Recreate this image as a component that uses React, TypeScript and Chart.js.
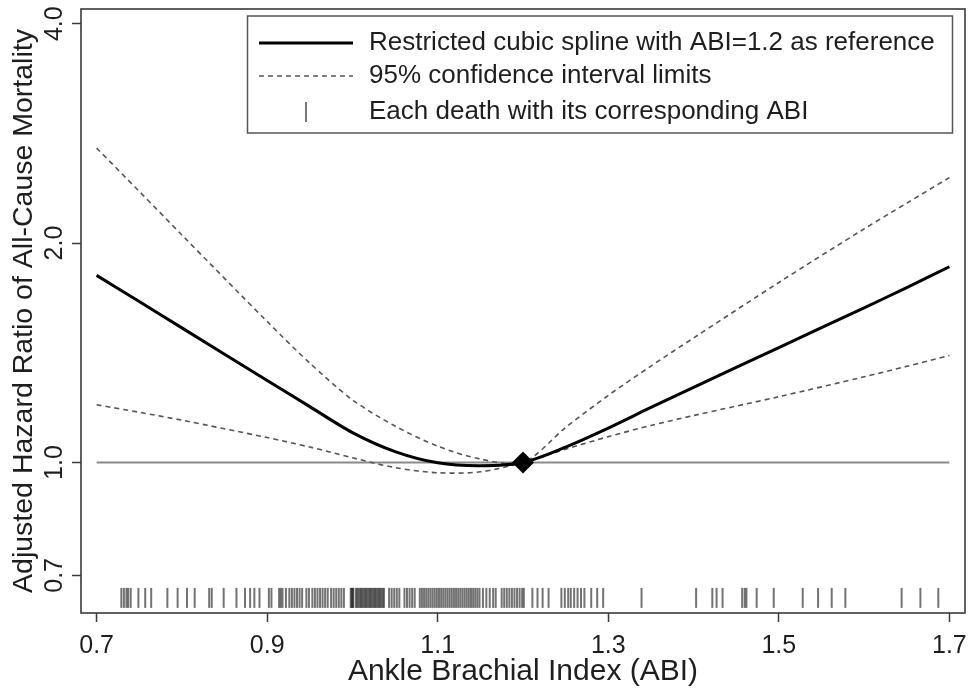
import React, { useEffect, useRef } from 'react';
import { Chart, registerables } from 'chart.js';

Chart.register(...registerables);

// ABI grid at which the curves were read
const ABI = [0.7, 0.75, 0.8, 0.9, 0.95, 1.0, 1.05, 1.1, 1.15, 1.2, 1.25, 1.3, 1.35, 1.4, 1.5, 1.6, 1.65, 1.7];
// Restricted cubic spline hazard ratio (ABI = 1.2 reference)
const HR_SPLINE = [1.806, 1.663, 1.53, 1.296, 1.193, 1.099, 1.035, 0.999, 0.99, 1.0, 1.05, 1.115, 1.19, 1.268, 1.438, 1.63, 1.738, 1.856];
// 95% CI limits
const HR_UPPER = [2.70, 2.355, 2.052, 1.561, 1.369, 1.219, 1.122, 1.053, 1.011, 1.0, 1.117, 1.236, 1.356, 1.482, 1.766, 2.092, 2.269, 2.46];
const HR_LOWER = [1.20, 1.172, 1.143, 1.082, 1.05, 1.015, 0.984, 0.968, 0.971, 1.0, 1.043, 1.085, 1.124, 1.16, 1.231, 1.311, 1.355, 1.402];

// Reference point
const REF_ABI = 1.2;
const REF_HR = 1.0;

// Each death with its ABI (rug)
const DEATH_ABI = [
  0.729, 0.732, 0.735, 0.737, 0.740, 0.749, 0.757, 0.764,
  0.783, 0.795, 0.806, 0.815, 0.832, 0.835, 0.849,
  0.864, 0.874, 0.880, 0.885, 0.891, 0.902, 0.905,
  0.914, 0.916, 0.918, 0.922, 0.926, 0.929, 0.932, 0.935, 0.938, 0.941, 0.946, 0.949,
  0.953, 0.956, 0.959, 0.962, 0.965, 0.968, 0.971,
  0.975, 0.978, 0.981, 0.984, 0.987, 0.990,
  0.998, 0.999, 1.000, 1.000, 1.001,
  1.004, 1.0055, 1.007, 1.0085, 1.010, 1.0115, 1.013, 1.0145, 1.016, 1.0175, 1.019, 1.0205,
  1.022, 1.0235, 1.025, 1.0265, 1.028, 1.0295, 1.031, 1.0325, 1.034, 1.0355, 1.037,
  1.043, 1.046, 1.049, 1.052, 1.055,
  1.061, 1.064, 1.067, 1.070, 1.073,
  1.079, 1.0815, 1.084, 1.0865, 1.089, 1.0915, 1.094, 1.0965, 1.099, 1.1015, 1.104, 1.1065,
  1.109, 1.1115, 1.114, 1.1165, 1.119, 1.1215, 1.124, 1.1265, 1.129, 1.1315, 1.134, 1.1365,
  1.139, 1.1415, 1.144, 1.1465, 1.149,
  1.153, 1.157, 1.161, 1.165, 1.168,
  1.175, 1.178, 1.181, 1.184, 1.187, 1.190, 1.193, 1.196, 1.199, 1.201,
  1.211, 1.217, 1.223, 1.230,
  1.245, 1.249, 1.253, 1.256, 1.260, 1.264, 1.268, 1.272,
  1.280, 1.287, 1.294, 1.339, 1.403, 1.422, 1.427, 1.434, 1.457, 1.460, 1.462, 1.474,
  1.494, 1.528, 1.546, 1.562, 1.578, 1.644, 1.666, 1.687,
];
const RUG_HR = 0.652;

const X_TICKS = [0.7, 0.9, 1.1, 1.3, 1.5, 1.7];
const Y_TICKS = [0.7, 1.0, 2.0, 4.0];
const X_MIN = 0.6817;
const X_MAX = 1.7183;
const Y_MIN = 0.6216;
const Y_MAX = 4.19;

const LEGEND_LABELS = [
  'Restricted cubic spline with ABI=1.2 as reference',
  '95% confidence interval limits',
  'Each death with its corresponding ABI',
];

const FONT = "'Liberation Sans', Arial, Helvetica, sans-serif";
const TEXT = '#1e1e1e';
const FRAME = '#3a3a3a';

const framePlugin = {
  id: 'frameAndLegend',
  afterDraw(chart: any) {
    const { ctx, chartArea } = chart;
    ctx.save();
    ctx.strokeStyle = FRAME;
    ctx.lineWidth = 1.6;
    ctx.strokeRect(chartArea.left, chartArea.top, chartArea.right - chartArea.left, chartArea.bottom - chartArea.top);

    // legend box
    const bx = 247.5, by = 16, bw = 705, bh = 117;
    ctx.fillStyle = '#fff';
    ctx.fillRect(bx, by, bw, bh);
    ctx.strokeStyle = '#555';
    ctx.lineWidth = 1.5;
    ctx.strokeRect(bx, by, bw, bh);

    const rows = [43, 76, 112];
    ctx.strokeStyle = '#000';
    ctx.lineWidth = 3;
    ctx.beginPath();
    ctx.moveTo(259, rows[0]);
    ctx.lineTo(353, rows[0]);
    ctx.stroke();
    ctx.strokeStyle = '#555';
    ctx.lineWidth = 1.5;
    ctx.setLineDash([5, 4]);
    ctx.beginPath();
    ctx.moveTo(259, rows[1]);
    ctx.lineTo(353, rows[1]);
    ctx.stroke();
    ctx.setLineDash([]);
    ctx.strokeStyle = 'rgba(60,60,60,0.7)';
    ctx.lineWidth = 2;
    ctx.beginPath();
    ctx.moveTo(306, rows[2] - 10);
    ctx.lineTo(306, rows[2] + 10);
    ctx.stroke();

    ctx.fillStyle = TEXT;
    ctx.font = `26px ${FONT}`;
    ctx.textBaseline = 'middle';
    ctx.textAlign = 'left';
    LEGEND_LABELS.forEach((t, i) => ctx.fillText(t, 369, rows[i]));
    ctx.restore();
  },
};

export default function App() {
  const ref = useRef<HTMLCanvasElement>(null);

  useEffect(() => {
    const toPts = (ys: number[]) => ABI.map((x, i) => ({ x, y: ys[i] }));
    const chart = new Chart(ref.current as HTMLCanvasElement, {
      type: 'scatter',
      data: {
        datasets: [
          {
            label: 'Reference',
            data: [{ x: REF_ABI, y: REF_HR }],
            pointStyle: 'rectRot',
            pointRadius: 11,
            pointBackgroundColor: '#000',
            pointBorderColor: '#000',
            pointBorderWidth: 0,
            showLine: false,
          },
          {
            label: LEGEND_LABELS[0],
            data: toPts(HR_SPLINE),
            showLine: true,
            borderColor: '#000',
            borderWidth: 3,
            pointRadius: 0,
            tension: 0.3,
          },
          {
            label: 'upper',
            data: toPts(HR_UPPER),
            showLine: true,
            borderColor: '#555',
            borderWidth: 1.6,
            borderDash: [5, 4],
            pointRadius: 0,
            tension: 0.3,
          },
          {
            label: 'lower',
            data: toPts(HR_LOWER),
            showLine: true,
            borderColor: '#555',
            borderWidth: 1.6,
            borderDash: [5, 4],
            pointRadius: 0,
            tension: 0.3,
          },
          {
            label: 'HR=1',
            data: [{ x: X_TICKS[0], y: 1 }, { x: X_TICKS[X_TICKS.length - 1], y: 1 }],
            showLine: true,
            borderColor: '#8a8a8a',
            borderWidth: 2,
            pointRadius: 0,
          },
          {
            label: LEGEND_LABELS[2],
            data: DEATH_ABI.map((x) => ({ x, y: RUG_HR })),
            showLine: false,
            pointStyle: 'line',
            rotation: 90,
            pointRadius: 10,
            pointBorderWidth: 2,
            pointBorderColor: 'rgba(40,40,40,0.65)',
          },
        ],
      },
      options: {
        responsive: false,
        animation: false,
        layout: { autoPadding: false, padding: { left: 0, top: 9, right: 9, bottom: 0 } },
        plugins: { legend: { display: false }, tooltip: { enabled: false } },
        scales: {
          x: {
            type: 'linear',
            bounds: 'data',
            min: X_MIN,
            max: X_MAX,
            afterBuildTicks: (s: any) => {
              s.ticks = X_TICKS.map((v) => ({ value: v }));
            },
            afterFit: (s: any) => {
              s.height = 81;
              s.paddingLeft = 0;
              s.paddingRight = 0;
            },
            border: { display: false },
            grid: { display: true, drawOnChartArea: false, drawTicks: true, tickLength: 9, tickColor: FRAME, tickWidth: 1.5 },
            ticks: {
              autoSkip: false,
              maxRotation: 0,
              padding: 9,
              color: TEXT,
              font: { family: FONT, size: 25 },
              callback: (v: any) => Number(v).toFixed(1),
            },
            title: {
              display: true,
              text: 'Ankle Brachial Index (ABI)',
              color: TEXT,
              font: { family: FONT, size: 30 },
              padding: { top: 0, bottom: 4 },
            },
          },
          y: {
            type: 'logarithmic',
            bounds: 'data',
            min: Y_MIN,
            max: Y_MAX,
            afterBuildTicks: (s: any) => {
              s.ticks = Y_TICKS.map((v) => ({ value: v }));
            },
            afterFit: (s: any) => {
              s.width = 81;
              s.paddingTop = 0;
              s.paddingBottom = 0;
            },
            border: { display: false },
            grid: { display: true, drawOnChartArea: false, drawTicks: true, tickLength: 9, tickColor: FRAME, tickWidth: 1.5 },
            ticks: {
              autoSkip: false,
              minRotation: 90,
              maxRotation: 90,
              crossAlign: 'center',
              padding: 0,
              color: TEXT,
              font: { family: FONT, size: 25 },
              callback: (v: any) => Number(v).toFixed(1),
            },
            title: {
              display: true,
              text: 'Adjusted Hazard Ratio of All-Cause Mortality',
              color: TEXT,
              font: { family: FONT, size: 28.5 },
              padding: { top: 7, bottom: 0 },
            },
          },
        },
      },
      plugins: [framePlugin],
    } as any);
    return () => chart.destroy();
  }, []);

  return (
    <div style={{ position: 'fixed', left: 0, top: 0, width: 974, height: 694, background: '#fff' }}>
      <canvas ref={ref} width={974} height={694} style={{ display: 'block' }} />
    </div>
  );
}
